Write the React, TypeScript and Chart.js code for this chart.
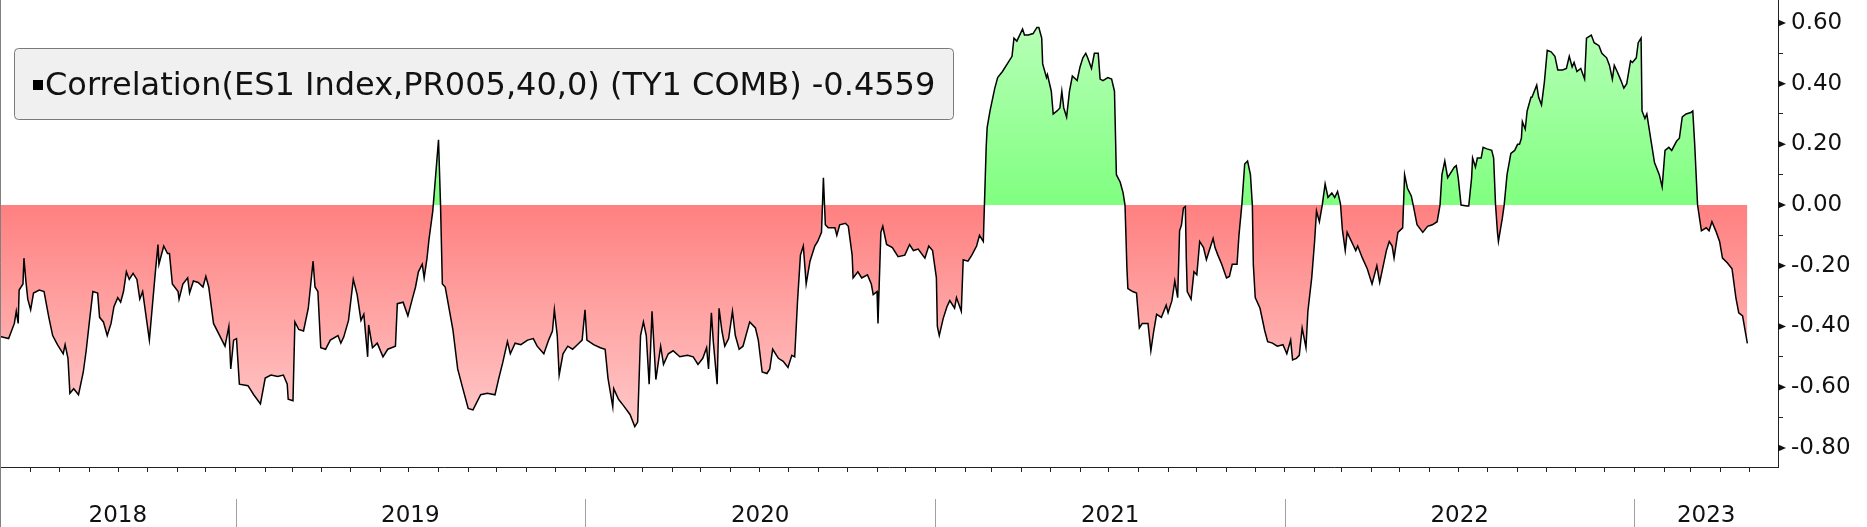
import React, { useEffect, useRef } from 'react';
import { Chart, registerables } from 'chart.js';

Chart.register(...registerables);

// ---- data -----------------------------------------------------------------
// x = days since 2018-05-01, y = rolling 40-day correlation
const BASE_DATE = Date.UTC(2018, 4, 1);
const X_MIN = -1;
const X_MAX = 1856;
const Y_MIN = -0.863;
const Y_MAX = 0.6755;

const LEGEND_NAME = 'Correlation(ES1 Index,PR005,40,0) (TY1 COMB)';
const LAST_VALUE = -0.4559;

const YEAR_LABELS = ['2018', '2019', '2020', '2021', '2022', '2023'];
const Y_TICKS = [-0.8, -0.7, -0.6, -0.5, -0.4, -0.3, -0.2, -0.1, 0, 0.1, 0.2, 0.3, 0.4, 0.5, 0.6];
const Y_LABELED = [-0.8, -0.6, -0.4, -0.2, 0, 0.2, 0.4, 0.6];

const PTS_2018: [number, number][] = [
  [-1, -0.433], [8, -0.44], [14, -0.39], [16, -0.35], [18, -0.39], [19, -0.28], [23, -0.26], [24, -0.175],
  [26, -0.25], [28, -0.31], [31, -0.345], [34, -0.29], [40, -0.28], [45, -0.285], [50, -0.37], [54, -0.43],
  [59, -0.46], [65, -0.49], [67, -0.46], [70, -0.505], [72, -0.62], [76, -0.605], [81, -0.625], [86, -0.55],
  [89, -0.48], [92, -0.395], [96, -0.285], [101, -0.29], [103, -0.37], [107, -0.385], [111, -0.43], [115, -0.39],
  [118, -0.335], [122, -0.305], [125, -0.32], [128, -0.285], [131, -0.22], [134, -0.245], [138, -0.225],
  [142, -0.245], [145, -0.31], [148, -0.285], [155, -0.445], [161, -0.23], [164, -0.13], [165, -0.195],
  [170, -0.135], [174, -0.16], [176, -0.16], [179, -0.26], [185, -0.285], [186, -0.31], [190, -0.26],
  [195, -0.24], [197, -0.29], [201, -0.25], [206, -0.255], [211, -0.27], [214, -0.235], [217, -0.27],
  [222, -0.39], [230, -0.44], [234, -0.465], [238, -0.4], [240, -0.54], [243, -0.445],
];

const PTS_2019: [number, number][] = [
  [246, -0.44], [249, -0.59], [258, -0.595], [264, -0.625], [271, -0.655], [276, -0.57], [282, -0.56],
  [289, -0.565], [295, -0.56], [299, -0.59], [300, -0.64], [305, -0.645], [307, -0.385], [311, -0.41],
  [316, -0.415], [321, -0.34], [326, -0.185], [328, -0.27], [331, -0.285], [334, -0.47], [339, -0.475],
  [344, -0.445], [352, -0.43], [355, -0.455], [358, -0.435], [363, -0.38], [368, -0.245], [372, -0.295],
  [376, -0.38], [379, -0.36], [383, -0.5], [384, -0.395], [388, -0.47], [393, -0.455], [399, -0.5],
  [404, -0.475], [412, -0.465], [414, -0.325], [420, -0.32], [425, -0.365], [430, -0.305], [433, -0.27],
  [436, -0.22], [440, -0.195], [442, -0.24], [445, -0.175], [447, -0.115], [451, -0.02], [457, 0.215],
  [459, 0.013], [461, -0.26], [464, -0.27], [472, -0.41], [477, -0.54], [482, -0.6], [488, -0.67],
  [493, -0.675], [501, -0.625], [508, -0.62], [516, -0.625], [520, -0.57], [524, -0.52], [529, -0.45],
  [532, -0.49], [537, -0.455], [543, -0.46], [550, -0.445], [556, -0.44], [560, -0.465], [567, -0.49],
  [572, -0.445], [576, -0.415], [578, -0.345], [581, -0.43], [583, -0.56], [587, -0.49], [592, -0.465],
  [597, -0.475], [602, -0.46], [607, -0.445],
];

const PTS_2020: [number, number][] = [
  [610, -0.345], [612, -0.445], [619, -0.46], [626, -0.47], [631, -0.475], [634, -0.57], [639, -0.665],
  [640, -0.605], [645, -0.64], [650, -0.66], [657, -0.69], [662, -0.73], [665, -0.715], [668, -0.43],
  [671, -0.385], [674, -0.43], [677, -0.59], [680, -0.35], [684, -0.575], [689, -0.465], [692, -0.525],
  [697, -0.49], [702, -0.48], [709, -0.5], [717, -0.495], [723, -0.5], [728, -0.525], [733, -0.505],
  [737, -0.47], [739, -0.54], [742, -0.355], [744, -0.45], [748, -0.59], [750, -0.34], [753, -0.415],
  [756, -0.465], [760, -0.44], [764, -0.35], [767, -0.43], [771, -0.475], [775, -0.465], [782, -0.385],
  [788, -0.405], [791, -0.445], [795, -0.55], [800, -0.555], [803, -0.54], [806, -0.475], [812, -0.505],
  [817, -0.515], [822, -0.535], [826, -0.495], [829, -0.5], [832, -0.315], [835, -0.165], [838, -0.135],
  [841, -0.26], [845, -0.185], [850, -0.135], [853, -0.12], [857, -0.09], [859, 0.09], [861, -0.065],
  [864, -0.075], [871, -0.075], [873, -0.1], [876, -0.065], [882, -0.06], [885, -0.07], [889, -0.165],
  [890, -0.24], [895, -0.22], [899, -0.24], [905, -0.23], [909, -0.26], [911, -0.295], [915, -0.285],
  [916, -0.39], [919, -0.09], [921, -0.07], [925, -0.13], [931, -0.14], [937, -0.17], [944, -0.165],
  [949, -0.13], [953, -0.15], [958, -0.145], [965, -0.175], [969, -0.135], [973, -0.15],
];

const PTS_2021: [number, number][] = [
  [977, -0.24], [978, -0.4], [980, -0.43], [984, -0.375], [988, -0.335], [991, -0.315], [996, -0.34],
  [998, -0.305], [1003, -0.35], [1005, -0.18], [1010, -0.185], [1014, -0.165], [1019, -0.135], [1022, -0.1],
  [1026, -0.12], [1029, 0.19], [1030, 0.255], [1033, 0.31], [1038, 0.385], [1041, 0.42], [1046, 0.44],
  [1052, 0.47], [1056, 0.49], [1058, 0.55], [1061, 0.54], [1064, 0.56], [1067, 0.58], [1069, 0.56],
  [1073, 0.56], [1078, 0.565], [1082, 0.585], [1084, 0.585], [1087, 0.55], [1088, 0.465], [1092, 0.42],
  [1093, 0.43], [1097, 0.375], [1099, 0.3], [1103, 0.31], [1106, 0.32], [1108, 0.375], [1110, 0.32],
  [1113, 0.29], [1116, 0.375], [1119, 0.425], [1124, 0.41], [1127, 0.455], [1130, 0.485], [1133, 0.5],
  [1135, 0.485], [1139, 0.45], [1142, 0.5], [1146, 0.5], [1148, 0.415], [1151, 0.41], [1156, 0.42],
  [1160, 0.415], [1163, 0.375], [1165, 0.1], [1169, 0.075], [1172, 0.04], [1174, 0.0], [1176, -0.21],
  [1177, -0.275], [1182, -0.285], [1186, -0.29], [1189, -0.405], [1192, -0.39], [1198, -0.39], [1201, -0.48],
  [1204, -0.415], [1207, -0.36], [1212, -0.37], [1217, -0.33], [1219, -0.355], [1223, -0.315], [1226, -0.25],
  [1229, -0.305], [1231, -0.085], [1233, -0.065], [1235, -0.01], [1237, -0.005], [1238, -0.175],
  [1239, -0.285], [1243, -0.31], [1246, -0.22], [1249, -0.23], [1252, -0.12], [1256, -0.14], [1259, -0.18],
  [1262, -0.15], [1266, -0.11], [1268, -0.14], [1271, -0.165], [1275, -0.195], [1280, -0.24], [1283, -0.235],
  [1286, -0.195], [1291, -0.195], [1293, -0.1], [1296, 0.0], [1299, 0.135], [1302, 0.145], [1305, 0.1],
  [1307, 0.0], [1308, -0.195], [1310, -0.305], [1315, -0.34], [1320, -0.415], [1323, -0.45], [1328, -0.455],
  [1333, -0.465], [1339, -0.46],
];

const PTS_2022: [number, number][] = [
  [1343, -0.49], [1347, -0.445], [1349, -0.51], [1353, -0.505], [1356, -0.495], [1359, -0.405], [1363, -0.47],
  [1365, -0.35], [1369, -0.24], [1372, -0.12], [1374, -0.02], [1377, -0.055], [1380, 0.0], [1383, 0.07],
  [1386, 0.025], [1390, 0.04], [1393, 0.025], [1396, 0.045], [1399, 0.005], [1401, -0.08], [1404, -0.15],
  [1406, -0.09], [1412, -0.13], [1415, -0.15], [1417, -0.135], [1422, -0.175], [1427, -0.21], [1432, -0.26],
  [1437, -0.2], [1440, -0.255], [1443, -0.21], [1447, -0.15], [1450, -0.12], [1453, -0.135], [1455, -0.175],
  [1459, -0.09], [1464, -0.075], [1466, 0.1], [1469, 0.055], [1473, 0.03], [1475, 0.0], [1479, -0.065],
  [1485, -0.09], [1490, -0.07], [1495, -0.065], [1500, -0.055], [1503, 0.0], [1505, 0.1], [1508, 0.145],
  [1511, 0.09], [1515, 0.11], [1518, 0.125], [1520, 0.13], [1522, 0.09], [1525, 0.0], [1531, -0.003],
  [1533, -0.003], [1536, 0.09], [1537, 0.155], [1540, 0.125], [1542, 0.155], [1546, 0.155], [1548, 0.19],
  [1552, 0.185], [1557, 0.18], [1559, 0.155], [1561, 0.0], [1563, -0.09], [1564, -0.12], [1568, -0.045],
  [1570, 0.0], [1573, 0.1], [1577, 0.17], [1581, 0.18], [1584, 0.2], [1586, 0.2], [1588, 0.22], [1589, 0.275],
  [1592, 0.25], [1594, 0.31], [1598, 0.355], [1599, 0.355], [1604, 0.395], [1606, 0.355], [1609, 0.33],
  [1612, 0.405], [1615, 0.51], [1619, 0.505], [1623, 0.49], [1626, 0.445], [1631, 0.445], [1635, 0.45],
  [1638, 0.49], [1641, 0.455], [1643, 0.47], [1646, 0.44], [1650, 0.45], [1654, 0.415], [1656, 0.55],
  [1661, 0.56], [1664, 0.535], [1669, 0.525], [1672, 0.5], [1677, 0.485], [1680, 0.46], [1683, 0.415],
  [1685, 0.46], [1688, 0.44], [1692, 0.41], [1695, 0.385], [1698, 0.4], [1702, 0.475], [1704, 0.47],
];

const PTS_2023: [number, number][] = [
  [1708, 0.485], [1710, 0.535], [1713, 0.55], [1714, 0.31], [1717, 0.285], [1719, 0.3], [1723, 0.22],
  [1727, 0.14], [1732, 0.1], [1735, 0.06], [1738, 0.18], [1742, 0.19], [1745, 0.18], [1750, 0.21],
  [1753, 0.22], [1756, 0.29], [1760, 0.3], [1765, 0.305], [1767, 0.31], [1769, 0.2], [1772, 0.0],
  [1776, -0.085], [1781, -0.075], [1784, -0.085], [1787, -0.055], [1791, -0.085], [1795, -0.12],
  [1798, -0.175], [1803, -0.19], [1808, -0.21], [1812, -0.305], [1815, -0.355], [1819, -0.365],
  [1824, LAST_VALUE],
];

// ---- helpers ----------------------------------------------------------------
const dayOf = (y: number, m: number, d: number) => Math.round((Date.UTC(y, m, d) - BASE_DATE) / 86400000);

const monthTicks = (): number[] => {
  const out: number[] = [];
  for (let y = 2018; y <= 2023; y++) {
    for (let m = 0; m < 12; m++) {
      const v = dayOf(y, m, 1);
      if (v > X_MIN + 2 && v < X_MAX - 2) out.push(v);
    }
  }
  return out;
};

const FONT = 'DejaVu Sans';

const decorPlugin = {
  id: 'decor',
  afterDraw(chart: any) {
    const { ctx, chartArea } = chart;
    const xs = chart.scales.x;
    const ys = chart.scales.y;
    ctx.save();

    // left frame line
    ctx.strokeStyle = '#808080';
    ctx.lineWidth = 1;
    ctx.beginPath();
    ctx.moveTo(0.5, 0);
    ctx.lineTo(0.5, chart.height);
    ctx.stroke();

    // major tick arrows on the right axis
    ctx.fillStyle = '#111';
    Y_LABELED.forEach((v) => {
      const py = ys.getPixelForValue(v);
      ctx.beginPath();
      ctx.moveTo(chartArea.right, py - 3.5);
      ctx.lineTo(chartArea.right + 8, py);
      ctx.lineTo(chartArea.right, py + 3.5);
      ctx.closePath();
      ctx.fill();
    });

    // year separators and labels
    ctx.font = `23px "${FONT}"`;
    ctx.textAlign = 'center';
    ctx.textBaseline = 'alphabetic';
    YEAR_LABELS.forEach((label, i) => {
      const yr = Number(label);
      const start = Math.max(X_MIN, dayOf(yr, 0, 1));
      const end = Math.min(X_MAX, dayOf(yr + 1, 0, 1));
      const p0 = xs.getPixelForValue(start);
      const p1 = xs.getPixelForValue(end);
      if (i > 0) {
        ctx.strokeStyle = '#a0a0a0';
        ctx.lineWidth = 1;
        ctx.beginPath();
        ctx.moveTo(Math.round(p0) + 0.5, chartArea.bottom + 32);
        ctx.lineTo(Math.round(p0) + 0.5, chart.height);
        ctx.stroke();
      }
      ctx.fillStyle = '#111';
      ctx.fillText(label, (p0 + p1) / 2, chartArea.bottom + 55);
    });

    // legend box
    const bx = 14.5, by = 48.5, bw = 939, bh = 71, r = 4;
    ctx.beginPath();
    ctx.moveTo(bx + r, by);
    ctx.lineTo(bx + bw - r, by);
    ctx.quadraticCurveTo(bx + bw, by, bx + bw, by + r);
    ctx.lineTo(bx + bw, by + bh - r);
    ctx.quadraticCurveTo(bx + bw, by + bh, bx + bw - r, by + bh);
    ctx.lineTo(bx + r, by + bh);
    ctx.quadraticCurveTo(bx, by + bh, bx, by + bh - r);
    ctx.lineTo(bx, by + r);
    ctx.quadraticCurveTo(bx, by, bx + r, by);
    ctx.closePath();
    ctx.fillStyle = '#f0f0f0';
    ctx.fill();
    ctx.strokeStyle = '#7a7a7a';
    ctx.lineWidth = 1;
    ctx.stroke();

    ctx.fillStyle = '#000';
    ctx.fillRect(33, 80, 10, 10);
    ctx.font = `32px "${FONT}"`;
    ctx.textAlign = 'left';
    ctx.fillStyle = '#111';
    ctx.fillText(`${LEGEND_NAME} ${LAST_VALUE.toFixed(4)}`, 45, 95);

    ctx.restore();
  },
};

export default function App() {
  const ref = useRef<HTMLCanvasElement | null>(null);

  useEffect(() => {
    if (!ref.current) return;
    const points = [...PTS_2018, ...PTS_2019, ...PTS_2020, ...PTS_2021, ...PTS_2022, ...PTS_2023].map(
      ([x, y]) => ({ x, y })
    );
    const months = monthTicks();

    const chart = new Chart(ref.current, {
      type: 'line',
      data: {
        datasets: [
          {
            data: points,
            borderColor: '#000',
            borderWidth: 1.5,
            pointRadius: 0,
            tension: 0,
            fill: 'origin',
            backgroundColor: (c: any) => {
              const ch = c.chart;
              const area = ch.chartArea;
              if (!area || !ch.scales.y) return 'rgba(255,128,128,1)';
              const y0 = ch.scales.y.getPixelForValue(0);
              const f = Math.min(1, Math.max(0, (y0 - area.top) / (area.bottom - area.top)));
              const g = ch.ctx.createLinearGradient(0, area.top, 0, area.bottom);
              g.addColorStop(0, 'rgb(190,255,190)');
              g.addColorStop(f, 'rgb(128,255,128)');
              g.addColorStop(f, 'rgb(255,128,128)');
              g.addColorStop(1, 'rgb(255,214,214)');
              return g;
            },
          },
        ],
      },
      options: {
        animation: false,
        responsive: false,
        events: [],
        layout: { padding: 0 },
        plugins: { legend: { display: false }, tooltip: { enabled: false } },
        scales: {
          x: {
            type: 'linear',
            position: 'bottom',
            min: X_MIN,
            max: X_MAX,
            afterBuildTicks: (s: any) => {
              s.ticks = months.map((v) => ({ value: v }));
            },
            afterFit: (s: any) => {
              s.height = 60;
              s.paddingLeft = 0;
              s.paddingRight = 0;
            },
            grid: { drawOnChartArea: false, drawTicks: true, tickLength: 5, tickColor: '#222', tickWidth: 1 },
            border: { display: true, color: '#222', width: 1 },
            ticks: { autoSkip: false, maxRotation: 0, padding: 0, callback: () => '' },
          },
          y: {
            type: 'linear',
            position: 'right',
            min: Y_MIN,
            max: Y_MAX,
            afterBuildTicks: (s: any) => {
              s.ticks = Y_TICKS.map((v) => ({ value: v }));
            },
            afterFit: (s: any) => {
              s.width = 89;
              s.paddingTop = 0;
              s.paddingBottom = 0;
            },
            grid: { drawOnChartArea: false, drawTicks: true, tickLength: 5, tickColor: '#222', tickWidth: 1 },
            border: { display: true, color: '#222', width: 1 },
            ticks: {
              autoSkip: false,
              padding: 8,
              color: '#111',
              font: { family: FONT, size: 23 },
              callback: (v: any) => {
                const n = Number(v);
                return Y_LABELED.some((m) => Math.abs(m - n) < 1e-6) ? n.toFixed(2) : '';
              },
            },
          },
        },
      },
      plugins: [decorPlugin],
    });

    return () => chart.destroy();
  }, []);

  return (
    <div style={{ position: 'fixed', left: 0, top: 0, width: 1867, height: 527, background: '#fff' }}>
      <canvas ref={ref} width={1867} height={527} style={{ display: 'block', width: 1867, height: 527 }} />
    </div>
  );
}
